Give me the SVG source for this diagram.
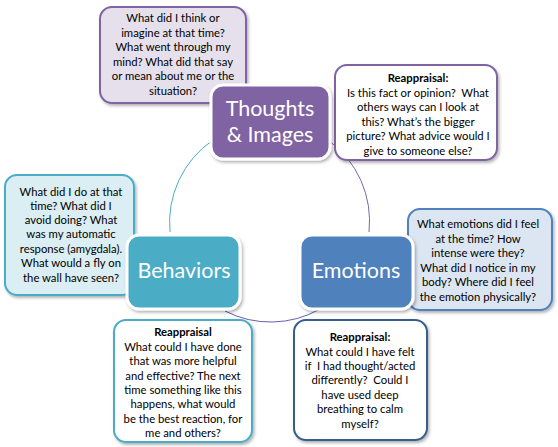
<svg xmlns="http://www.w3.org/2000/svg" width="558" height="447" viewBox="0 0 558 447">
<defs>
<filter id="sh" x="-10%" y="-10%" width="130%" height="130%">
<feDropShadow dx="1.5" dy="2" stdDeviation="1.5" flood-color="#000" flood-opacity="0.3"/>
</filter>
</defs>
<style>
.t{font-family:Lato,"Liberation Sans",sans-serif;font-size:11.3px;fill:#000;text-anchor:middle;white-space:pre}
.b{font-weight:bold}
.m{font-family:Lato,"Liberation Sans",sans-serif;font-size:21.5px;fill:#fff;text-anchor:middle}
.box{stroke-width:2;filter:url(#sh)}
.node{stroke:#fff;stroke-width:3;filter:url(#sh)}
.arc{fill:none;stroke-width:1}
</style>
<g id="connectors">
<path class="arc" stroke="#4BACC6" d="M 213 140 A 100 100 0 0 0 170 232"/>
<path class="arc" stroke="#8064A2" d="M 328 140 A 100 100 0 0 1 369 232"/>
<path class="arc" stroke="#5F5FB5" d="M 225 311 A 100 100 0 0 0 320 309"/>
</g>
<g id="thoughts-q">
<rect class="box" x="100" y="7" width="146" height="96" rx="12" fill="#E5E0EC" stroke="#8064A2"/>
<text class="t" x="173" y="22">What did I think or</text>
<text class="t" x="173" y="37">imagine at that time?</text>
<text class="t" x="173" y="51">What went through my</text>
<text class="t" x="173" y="66">mind? What did that say</text>
<text class="t" x="173" y="80">or mean about me or the</text>
<text class="t" x="173" y="95">situation?</text>
</g>
<g id="thoughts-reappraisal">
<rect class="box" x="335" y="65" width="162" height="95" rx="12" fill="#fff" stroke="#8064A2"/>
<text class="t b" x="418" y="82">Reappraisal:</text>
<text class="t" x="418" y="97">Is this fact or opinion?  What</text>
<text class="t" x="418" y="111">others ways can I look at</text>
<text class="t" x="418" y="126">this? What’s the bigger</text>
<text class="t" x="418" y="140">picture? What advice would I</text>
<text class="t" x="418" y="155">give to someone else?</text>
</g>
<g id="behaviors-q">
<rect class="box" x="5" y="175" width="129" height="120" rx="12" fill="#DAEEF3" stroke="#4BACC6"/>
<text class="t" x="71" y="196">What did I do at that</text>
<text class="t" x="71" y="210">time? What did I</text>
<text class="t" x="71" y="224">avoid doing? What</text>
<text class="t" x="71" y="238">was my automatic</text>
<text class="t" x="71" y="253">response (amygdala).</text>
<text class="t" x="71" y="267">What would a fly on</text>
<text class="t" x="71" y="282">the wall have seen?</text>
</g>
<g id="emotions-q">
<rect class="box" x="408" y="209" width="144" height="101" rx="12" fill="#DCE6F2" stroke="#4F81BD"/>
<text class="t" x="478" y="228">What emotions did I feel</text>
<text class="t" x="478" y="243">at the time? How</text>
<text class="t" x="478" y="257">intense were they?</text>
<text class="t" x="478" y="272">What did I notice in my</text>
<text class="t" x="478" y="286">body? Where did I feel</text>
<text class="t" x="478" y="301">the emotion physically?</text>
</g>
<g id="behaviors-reappraisal">
<rect class="box" x="114" y="320" width="138" height="122" rx="12" fill="#fff" stroke="#4BACC6"/>
<text class="t b" x="183" y="336">Reappraisal</text>
<text class="t" x="183" y="351">What could I have done</text>
<text class="t" x="183" y="365">that was more helpful</text>
<text class="t" x="183" y="380">and effective? The next</text>
<text class="t" x="183" y="394">time something like this</text>
<text class="t" x="183" y="408">happens, what would</text>
<text class="t" x="183" y="423">be the best reaction, for</text>
<text class="t" x="183" y="437">me and others?</text>
</g>
<g id="emotions-reappraisal">
<rect class="box" x="294" y="320" width="133" height="120" rx="12" fill="#fff" stroke="#385D8A"/>
<text class="t b" x="360" y="341">Reappraisal:</text>
<text class="t" x="360" y="356">What could I have felt</text>
<text class="t" x="360" y="370">if  I had thought/acted</text>
<text class="t" x="360" y="384">differently?  Could I</text>
<text class="t" x="360" y="399">have used deep</text>
<text class="t" x="360" y="413">breathing to calm</text>
<text class="t" x="360" y="428">myself?</text>
</g>
<g id="thoughts">
<rect class="node" x="211" y="85" width="119" height="74" rx="12" fill="#8064A2"/>
<text class="m" x="270" y="116">Thoughts</text>
<text class="m" x="270" y="142">&amp; Images</text>
</g>
<g id="behaviors">
<rect class="node" x="127" y="235" width="113" height="74" rx="12" fill="#4BACC6"/>
<text class="m" x="184" y="278">Behaviors</text>
</g>
<g id="emotions">
<rect class="node" x="300" y="235" width="113" height="74" rx="12" fill="#4F81BD"/>
<text class="m" x="356" y="278">Emotions</text>
</g>
</svg>
